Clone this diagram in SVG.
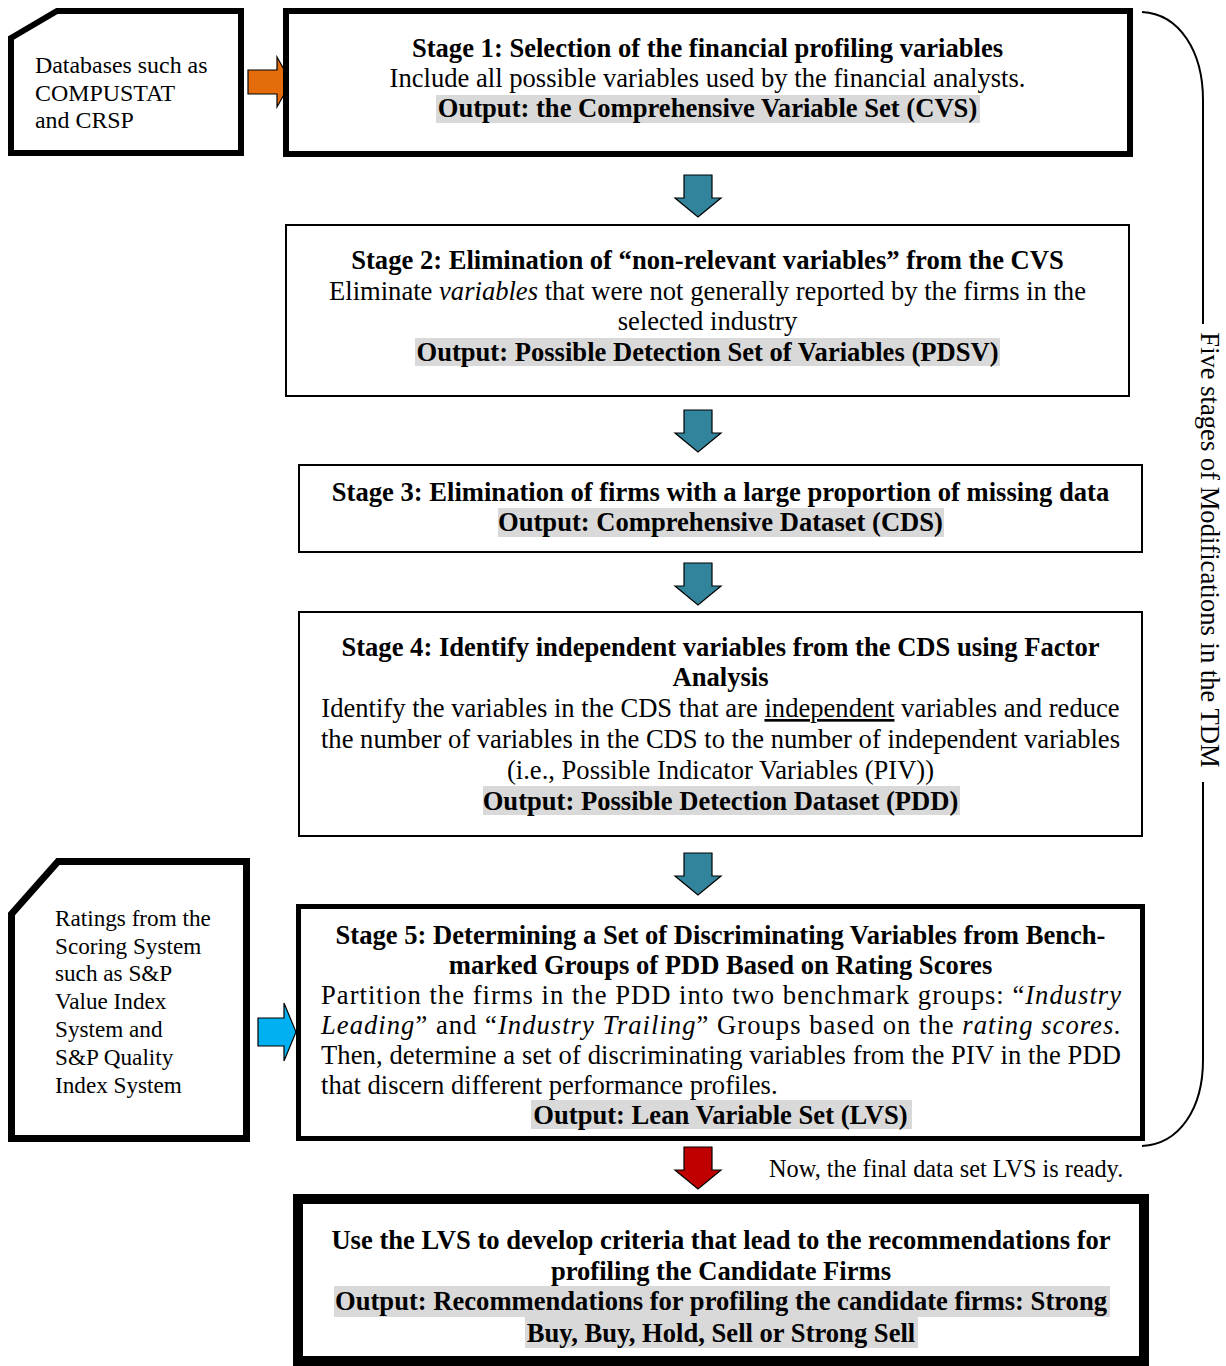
<svg xmlns="http://www.w3.org/2000/svg" width="1226" height="1366" viewBox="0 0 1226 1366">
<style>
.t{font-family:"Liberation Serif","Times New Roman",serif;font-size:26.6px;fill:#000}
.s{font-family:"Liberation Serif","Times New Roman",serif;font-size:23.9px;fill:#000}
.r{font-size:23.2px}
.b{font-weight:bold}
.c{text-anchor:middle}
.i{font-style:italic}
.box{fill:#fff;stroke:#000}
.hl{fill:#d9d9d9}
.arr{stroke:#000;stroke-width:1.2;stroke-linejoin:miter}
</style>
<defs>
<path id="down" d="M-14,0 H14 V23 H23 L0,42 L-23,23 H-14 Z"/>
</defs>
<rect width="1226" height="1366" fill="#fff"/>

<g id="connectors">
<path class="arr" fill="#E46C0A" d="M248,70 H277 V57 L291,82 L277,107 V94 H248 Z"/>
<path class="arr" fill="#00B0F0" d="M258,1018 H284 V1003 L296,1032 L284,1061 V1046 H258 Z"/>
<use href="#down" x="698" y="175" class="arr" fill="#31849B"/>
<use href="#down" x="698" y="410" class="arr" fill="#31849B"/>
<use href="#down" x="698" y="563" class="arr" fill="#31849B"/>
<use href="#down" x="698" y="853" class="arr" fill="#31849B"/>
<use href="#down" x="698" y="1147" class="arr" fill="#C00000"/>
<path d="M1142,12 C1180,14 1203,52 1203,100 V324 M1203,782 V1060 C1203,1108 1180,1144 1142,1146" fill="none" stroke="#000" stroke-width="2"/>
</g>

<g id="databases">
<path class="box" stroke-width="6" d="M11,38 L57,11 H241 V153 H11 Z"/>
<text class="s" x="35" y="73">Databases such as</text>
<text class="s" x="35" y="101">COMPUSTAT</text>
<text class="s" x="35" y="128">and CRSP</text>
</g>

<g id="ratings">
<path class="box" stroke-width="7" d="M11.5,914 L58,861.5 H246.5 V1138.5 H11.5 Z"/>
<text class="s r" x="55" y="926">Ratings from the</text>
<text class="s r" x="55" y="954">Scoring System</text>
<text class="s r" x="55" y="981">such as S&amp;P</text>
<text class="s r" x="55" y="1009">Value Index</text>
<text class="s r" x="55" y="1037">System and</text>
<text class="s r" x="55" y="1065">S&amp;P Quality</text>
<text class="s r" x="55" y="1093">Index System</text>
</g>

<g id="stage1">
<rect class="box" x="286" y="11" width="844" height="143" stroke-width="6"/>
<rect class="hl" x="436" y="95" width="544" height="28"/>
<text class="t b c" x="707.5" y="57">Stage 1: Selection of the financial profiling variables</text>
<text class="t c" x="707.5" y="87">Include all possible variables used by the financial analysts.</text>
<text class="t b c" x="707.5" y="117">Output: the Comprehensive Variable Set (CVS)</text>
</g>

<g id="stage2">
<rect class="box" x="286" y="225" width="843" height="171" stroke-width="2"/>
<rect class="hl" x="415" y="338" width="585" height="28"/>
<text class="t b c" x="707.5" y="269">Stage 2: Elimination of “non-relevant variables” from the CVS</text>
<text class="t c" x="707.5" y="300">Eliminate <tspan class="i">variables</tspan> that were not generally reported by the firms in the</text>
<text class="t c" x="707.5" y="330">selected industry</text>
<text class="t b c" x="707.5" y="361">Output: Possible Detection Set of Variables (PDSV)</text>
</g>

<g id="stage3">
<rect class="box" x="299" y="465" width="843" height="87" stroke-width="2"/>
<rect class="hl" x="498" y="508" width="446" height="29"/>
<text class="t b c" x="720.5" y="501">Stage 3: Elimination of firms with a large proportion of missing data</text>
<text class="t b c" x="720.5" y="531">Output: Comprehensive Dataset (CDS)</text>
</g>

<g id="stage4">
<rect class="box" x="299" y="612" width="843" height="224" stroke-width="2"/>
<rect class="hl" x="483" y="786" width="477" height="29"/>
<text class="t b c" x="720.5" y="656">Stage 4: Identify independent variables from the CDS using Factor</text>
<text class="t b c" x="720.5" y="686">Analysis</text>
<text class="t c" x="720.5" y="717">Identify the variables in the CDS that are <tspan text-decoration="underline">independent</tspan> variables and reduce</text>
<text class="t c" x="720.5" y="748">the number of variables in the CDS to the number of independent variables</text>
<text class="t c" x="720.5" y="779">(i.e., Possible Indicator Variables (PIV))</text>
<text class="t b c" x="720.5" y="810">Output: Possible Detection Dataset (PDD)</text>
</g>

<g id="stage5">
<rect class="box" x="298.5" y="906.5" width="844" height="232" stroke-width="5"/>
<rect class="hl" x="531" y="1100" width="381" height="29"/>
<text class="t b c" x="720.5" y="944">Stage 5: Determining a Set of Discriminating Variables from Bench-</text>
<text class="t b c" x="720.5" y="974">marked Groups of PDD Based on Rating Scores</text>
<text class="t" x="321" y="1004" textLength="800" lengthAdjust="spacing">Partition the firms in the PDD into two benchmark groups: “<tspan class="i">Industry</tspan></text>
<text class="t" x="321" y="1034" textLength="800" lengthAdjust="spacing"><tspan class="i">Leading</tspan>” and “<tspan class="i">Industry Trailing</tspan>” Groups based on the <tspan class="i">rating scores.</tspan></text>
<text class="t" x="321" y="1064" textLength="800" lengthAdjust="spacing">Then, determine a set of discriminating variables from the PIV in the PDD</text>
<text class="t" x="321" y="1094">that discern different performance profiles.</text>
<text class="t b c" x="720.5" y="1124">Output: Lean Variable Set (LVS)</text>
</g>

<g id="note">
<text class="s" x="769" y="1177" style="font-size:24.3px">Now, the final data set LVS is ready.</text>
</g>

<g id="final">
<rect class="box" x="298" y="1199" width="846" height="162" stroke-width="10"/>
<rect class="hl" x="334" y="1286" width="776" height="31"/>
<rect class="hl" x="525" y="1317" width="393" height="31"/>
<text class="t b c" x="721" y="1249">Use the LVS to develop criteria that lead to the recommendations for</text>
<text class="t b c" x="721" y="1280">profiling the Candidate Firms</text>
<text class="t b c" x="721" y="1310">Output: Recommendations for profiling the candidate firms: Strong</text>
<text class="t b c" x="721" y="1342">Buy, Buy, Hold, Sell or Strong Sell</text>
</g>

<g id="bracket-label">
<text class="t" x="0" y="0" transform="translate(1201,550) rotate(90)" text-anchor="middle" style="font-size:26.6px">Five stages of Modifications in the TDM</text>
</g>
</svg>
